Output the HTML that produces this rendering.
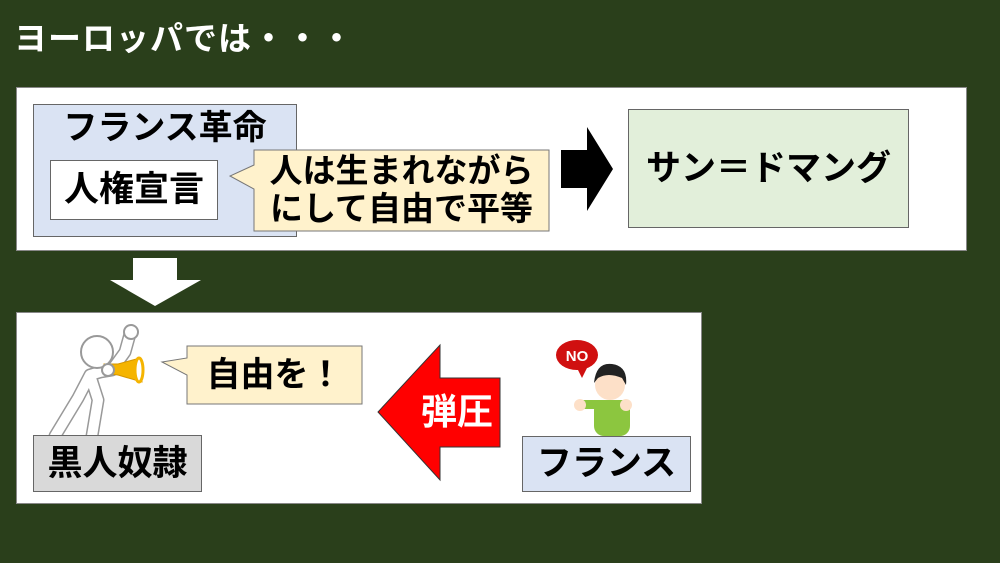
<!DOCTYPE html>
<html><head><meta charset="utf-8"><style>
body{margin:0;width:1000px;height:563px;background:#2a3f1b;position:relative;overflow:hidden;font-family:"Liberation Sans","Noto Sans CJK JP",sans-serif;}
.a{position:absolute;box-sizing:border-box;}
.t{font-weight:bold;color:#000;white-space:nowrap;}
</style></head><body>
<div class="a t" style="left:14px;top:17px;font-size:33px;color:#fff;line-height:44px;letter-spacing:1px;">ヨーロッパでは・・・</div>

<div class="a" style="left:16px;top:87px;width:951px;height:164px;background:#fff;border:1px solid #888;"></div>
<div class="a" style="left:33px;top:104px;width:264px;height:133px;background:#dae3f3;border:1px solid #666;"></div>
<div class="a t" style="left:33px;top:106px;width:264px;text-align:center;font-size:34px;line-height:44px;">フランス革命</div>
<div class="a t" style="left:50px;top:160px;width:168px;height:60px;background:#fff;border:1px solid #666;font-size:35px;line-height:58px;text-align:center;">人権宣言</div>

<svg class="a" style="left:0;top:0" width="1000" height="563">
<polygon points="254,150 549,150 549,231 254,231 254,189 230,176 254,165" fill="#fff2cc" stroke="#777" stroke-width="1"/>
<polygon points="561,150 587,150 587,127 613,169 587,211 587,188 561,188" fill="#000"/>
<polygon points="133,258 177,258 177,280 201,280 155,306 110,280 133,280" fill="#fff"/>
<polygon points="187,346 362,346 362,404 187,404 187,375 162,362 187,358" fill="#fff2cc" stroke="#777" stroke-width="1"/>
<polygon points="500,378 500,447 440,447 440,480 378,412 440,345 440,378" fill="#f00" stroke="#333" stroke-width="1"/>
<g stroke-linecap="round" stroke-linejoin="round" fill="none">
<path d="M55,436 L78,398 L90,375 M90,375 L98,400 L92,436 M90,375 L100,372 M100,372 L112,370 L125,352 L130,334" stroke="#999" stroke-width="13"/>
<path d="M55,436 L78,398 L90,375 M90,375 L98,400 L92,436 M90,375 L100,372 M100,372 L112,370 L125,352 L130,334" stroke="#fff" stroke-width="10"/>
</g>
<circle cx="131" cy="332" r="7" fill="#fff" stroke="#999" stroke-width="2"/>
<circle cx="97" cy="352" r="16" fill="#fff" stroke="#999" stroke-width="2"/>
<polygon points="104,364 118,364 140,358 142,382 118,375 104,373" fill="#f5b400" stroke="#d69600"/>
<ellipse cx="139" cy="370" rx="4" ry="12" fill="#fff" stroke="#f5b400" stroke-width="3"/>
<circle cx="108" cy="370" r="6" fill="#fff" stroke="#999" stroke-width="2"/>
<ellipse cx="577" cy="355" rx="21" ry="15" fill="#d01010"/>
<polygon points="576,366 588,366 582,378" fill="#d01010"/>
<text x="577" y="361" font-size="15" font-weight="bold" fill="#fff" text-anchor="middle" font-family="Liberation Sans">NO</text>
<rect x="594" y="400" width="36" height="36" rx="10" fill="#8cc63f"/>
<rect x="578" y="400" width="52" height="9" rx="4" fill="#8cc63f"/>
<circle cx="580" cy="405" r="6" fill="#fde0c8"/>
<circle cx="626" cy="405" r="6" fill="#fde0c8"/>
<circle cx="610" cy="385" r="15" fill="#fde0c8"/>
<path d="M594,383 Q596,362 612,364 Q628,366 626,385 L622,378 Q608,372 598,378 Z" fill="#222"/>
</svg>

<div class="a t" style="left:254px;top:150px;width:295px;height:81px;font-size:33px;line-height:38px;text-align:center;padding-top:2px;">人は生まれながら<br>にして自由で平等</div>
<div class="a t" style="left:628px;top:109px;width:281px;height:119px;background:#e2efda;border:1px solid #666;font-size:35px;line-height:117px;text-align:center;">サン＝ドマング</div>

<div class="a" style="left:16px;top:312px;width:686px;height:192px;background:#fff;border:1px solid #888;z-index:-1"></div>
<div class="a t" style="left:187px;top:346px;width:175px;height:58px;font-size:34px;line-height:58px;text-align:center;">自由を！</div>
<div class="a t" style="left:33px;top:435px;width:169px;height:57px;background:#d9d9d9;border:1px solid #666;font-size:35px;line-height:55px;text-align:center;">黒人奴隷</div>
<div class="a t" style="left:410px;top:390px;width:94px;font-size:36px;line-height:44px;color:#fff;text-align:center;">弾圧</div>
<div class="a t" style="left:522px;top:436px;width:169px;height:56px;background:#dae3f3;border:1px solid #666;font-size:35px;line-height:54px;text-align:center;">フランス</div>
</body></html>
